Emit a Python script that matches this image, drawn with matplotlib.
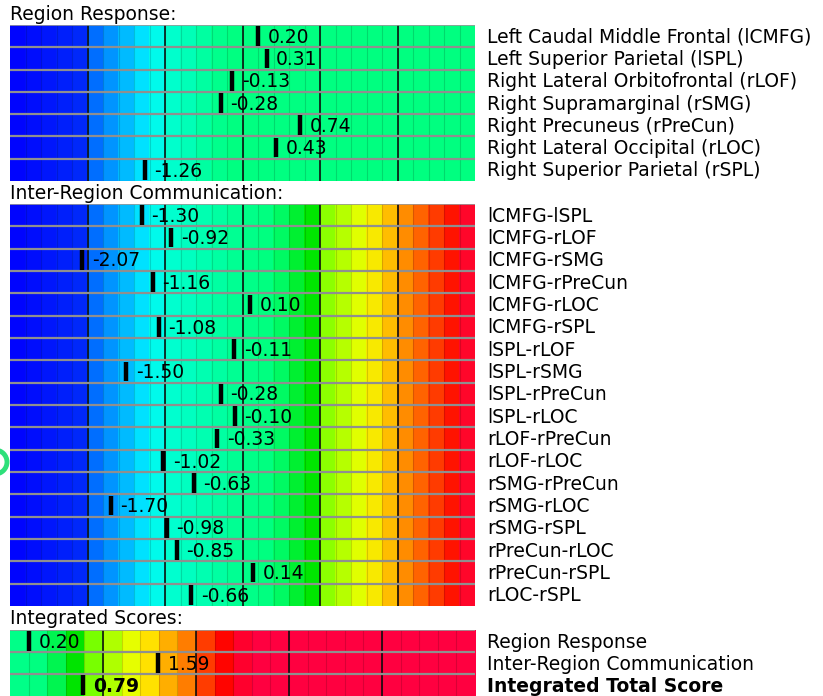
import numpy as np
import matplotlib
matplotlib.use("Agg")
import matplotlib.pyplot as plt
from matplotlib.patches import Circle
from matplotlib.transforms import IdentityTransform

plt.rcParams['font.family'] = ['DejaVu Sans']

# ---------------- data ----------------
region_labels = ["Left Caudal Middle Frontal (lCMFG)", "Left Superior Parietal (lSPL)",
                 "Right Lateral Orbitofrontal (rLOF)", "Right Supramarginal (rSMG)",
                 "Right Precuneus (rPreCun)", "Right Lateral Occipital (rLOC)",
                 "Right Superior Parietal (rSPL)"]
region_values = [0.20, 0.31, -0.13, -0.28, 0.74, 0.43, -1.26]

inter_labels = ["lCMFG-lSPL", "lCMFG-rLOF", "lCMFG-rSMG", "lCMFG-rPreCun", "lCMFG-rLOC",
                "lCMFG-rSPL", "lSPL-rLOF", "lSPL-rSMG", "lSPL-rPreCun", "lSPL-rLOC",
                "rLOF-rPreCun", "rLOF-rLOC", "rSMG-rPreCun", "rSMG-rLOC", "rSMG-rSPL",
                "rPreCun-rLOC", "rPreCun-rSPL", "rLOC-rSPL"]
inter_values = [-1.30, -0.92, -2.07, -1.16, 0.10, -1.08, -0.11, -1.50, -0.28, -0.10,
                -0.33, -1.02, -0.63, -1.70, -0.98, -0.85, 0.14, -0.66]

integ_labels = ["Region Response", "Inter-Region Communication", "Integrated Total Score"]
integ_values = [0.20, 1.59, 0.79]

# ---------------- colour scales (styles) ----------------
REGION_STOPS = [(-3.0, (0, 0, 255)), (-2.1, (0, 40, 250)), (-1.9, (0, 110, 255)),
                (-1.2, (0, 245, 255)), (-1.0, (0, 255, 215)), (-0.2, (0, 255, 130)),
                (3.0, (0, 255, 128))]
INTER_STOPS = [(-3.0, (0, 0, 255)), (-2.1, (0, 40, 250)), (-1.9, (0, 110, 255)),
               (-1.2, (0, 245, 255)), (-1.0, (0, 255, 215)), (0.0, (0, 255, 140)),
               (0.4, (0, 255, 125)), (0.9, (0, 230, 0)), (1.1, (140, 255, 0)),
               (1.6, (245, 255, 0)), (1.9, (255, 190, 0)), (2.1, (255, 140, 0)),
               (2.7, (255, 20, 0)), (3.0, (255, 0, 64))]
INTEG_STOPS = [(0.0, (0, 255, 140)), (0.3, (0, 255, 128)), (0.5, (0, 245, 80)),
               (0.7, (0, 228, 0)), (0.9, (120, 255, 0)), (1.3, (230, 255, 0)),
               (1.5, (255, 225, 0)), (1.9, (255, 125, 0)), (2.1, (255, 60, 0)),
               (2.3, (255, 5, 0)), (2.5, (255, 0, 45)), (2.7, (255, 0, 64)),
               (5.0, (255, 0, 64))]

W, H = 823, 696
fig = plt.figure(figsize=(W / 100, H / 100), dpi=100)
FS = 13.5


def cell_colors(stops, centers):
    xs = np.array([s[0] for s in stops])
    cs = np.array([s[1] for s in stops], dtype=float)
    out = np.stack([np.interp(centers, xs, cs[:, k]) for k in range(3)], axis=1)
    return out / 255.0


def panel(top, bottom, title, title_y, labels, values, vmin, vmax, stops, bold_last=False):
    n = len(labels)
    ax = fig.add_axes([10 / W, 1 - bottom / H, 465 / W, (bottom - top) / H])
    ncell = int(round((vmax - vmin) / 0.2))
    edges = np.linspace(vmin, vmax, ncell + 1)
    centers = (edges[:-1] + edges[1:]) / 2
    cols = cell_colors(stops, centers)
    img = np.repeat(cols[None, :, :], n, axis=0)
    ax.imshow(img, extent=(vmin, vmax, n, 0), aspect='auto', interpolation='nearest')
    ax.vlines(edges[1:-1], 0, n, color=(0, 0, 0, 0.15), lw=0.8)
    majors = np.arange(vmin + 1, vmax, 1.0)
    ax.vlines(majors, 0, n, color=(0.05, 0.05, 0.05, 0.9), lw=1.3)
    ax.hlines(np.arange(1, n), vmin, vmax, color='#8f8f8f', lw=1.6)
    ax.hlines([0], vmin, vmax, color='#9a9a9a', lw=1.2)
    for i, (lab, v) in enumerate(zip(labels, values)):
        bold = bold_last and i == n - 1
        ax.vlines(v, i + 0.06, i + 0.94, color='black', lw=3.2)
        ax.annotate(f"{v:.2f}", xy=(v, i + 0.5), xytext=(7, 0.6), textcoords='offset points',
                    va='center_baseline', ha='left', fontsize=FS,
                    fontweight='bold' if bold else 'normal')
        ax.annotate(lab, xy=(1, i + 0.5), xycoords=('axes fraction', 'data'),
                    xytext=(8.6, 0.7), textcoords='offset points', va='center_baseline',
                    ha='left', fontsize=FS, fontweight='bold' if bold else 'normal',
                    annotation_clip=False)
    ax.set_xlim(vmin, vmax)
    ax.set_ylim(n, 0)
    ax.axis('off')
    fig.text(10 / W, 1 - title_y / H, title, va='center', ha='left', fontsize=FS)


panel(25, 181, "Region Response:", 14, region_labels, region_values, -3, 3, REGION_STOPS)
panel(204, 606, "Inter-Region Communication:", 193, inter_labels, inter_values, -3, 3, INTER_STOPS)
panel(630, 696, "Integrated Scores:", 619, integ_labels, integ_values, 0, 5, INTEG_STOPS, bold_last=True)

# partially visible ring at the left edge
fig.add_artist(Circle((-5, H - 462), 12, transform=IdentityTransform(),
                      facecolor='white', edgecolor='#2ee07a', lw=3.5, clip_on=False))

fig.savefig("out.png", dpi=100)
